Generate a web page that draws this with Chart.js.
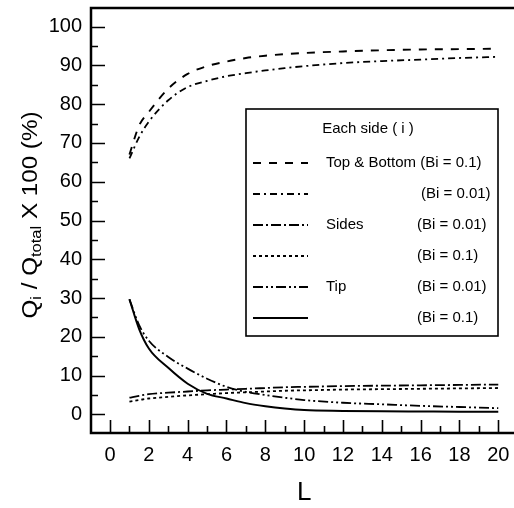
<!DOCTYPE html>
<html>
<head>
<meta charset="utf-8">
<script src="https://cdn.jsdelivr.net/npm/chart.js@4.4.1/dist/chart.umd.min.js"></script>
<style>
html,body{margin:0;padding:0;background:#fff;}
#wrap{width:514px;height:508px;position:relative;}
</style>
</head>
<body>
<div id="wrap"><canvas id="c" width="514" height="508"></canvas></div>
<script>
// ---- data ----
const L = [1, 1.5, 2, 3, 4, 5, 6, 7, 8, 9, 10, 12, 14, 16, 18, 20];
const topBottomBi01  = [67, 74.5, 78, 84, 87.8, 89.8, 91, 91.9, 92.5, 92.9, 93.2, 93.6, 93.9, 94.1, 94.2, 94.3];
const topBottomBi001 = [66, 71.5, 75.5, 81, 84.4, 86, 87.2, 88, 88.7, 89.3, 89.8, 90.6, 91.1, 91.5, 91.9, 92.2];
const sidesBi001     = [4.3, 4.8, 5.2, 5.6, 5.9, 6.2, 6.4, 6.6, 6.8, 7.0, 7.1, 7.3, 7.4, 7.5, 7.6, 7.7];
const sidesBi01      = [3.3, 3.7, 4.1, 4.5, 4.9, 5.2, 5.5, 5.7, 5.9, 6.1, 6.2, 6.4, 6.5, 6.6, 6.7, 6.8];
const tipBi001       = [29.7, 23, 19, 14.8, 11.8, 9.2, 7.1, 5.8, 5.0, 4.3, 3.7, 3.0, 2.6, 2.2, 1.9, 1.6];
const tipBi01        = [29.7, 22, 17, 12, 7.9, 5.3, 4.1, 2.9, 2.1, 1.5, 1.1, 0.9, 0.8, 0.75, 0.7, 0.7];

const xTickLabels = [0, 2, 4, 6, 8, 10, 12, 14, 16, 18, 20];
const xMinorTicks = [1, 3, 5, 7, 9, 11, 13, 15, 17, 19];
const yTickLabels = [0, 10, 20, 30, 40, 50, 60, 70, 80, 90, 100];
const yMinorTicks = [5, 15, 25, 35, 45, 55, 65, 75, 85, 95];

const legendTitle = 'Each side ( i )';
const legendGroup = ['Top & Bottom', '', 'Sides', '', 'Tip', ''];
const legendBi    = ['(Bi = 0.1)', '(Bi = 0.01)', '(Bi = 0.01)', '(Bi = 0.1)', '(Bi = 0.01)', '(Bi = 0.1)'];

const FONT = '"Liberation Sans", Arial, sans-serif';

function pts(vals){ return L.map((x,i)=>({x:x, y:vals[i]})); }

const seriesList = [topBottomBi01, topBottomBi001, sidesBi001, sidesBi01, tipBi001, tipBi01];
const dashes = [[8,8],[7,4,2,4],[10,3,2,3],[3,3],[10,3,2,3,2,3],[]];
const widths = [1.9,1.8,1.8,1.8,1.8,2.0];

const datasets = seriesList.map((s,i)=>({
  label: (legendGroup[i] + ' ' + legendBi[i]).trim(),
  data: pts(s),
  borderColor: '#000',
  backgroundColor: '#000',
  borderWidth: widths[i],
  borderDash: dashes[i],
  pointRadius: 0,
  fill: false,
  cubicInterpolationMode: 'monotone'
}));

const framePlugin = {
  id: 'frame',
  afterDraw(chart){
    const ctx = chart.ctx, a = chart.chartArea;
    const xs = chart.scales.x, ys = chart.scales.y;
    ctx.save();
    ctx.strokeStyle = '#000';
    ctx.setLineDash([]);
    // axis lines
    ctx.lineWidth = 2.5;
    ctx.beginPath();
    ctx.moveTo(a.right, a.top); ctx.lineTo(a.left, a.top);
    ctx.lineTo(a.left, a.bottom); ctx.lineTo(a.right, a.bottom);
    ctx.stroke();
    // ticks
    ctx.lineWidth = 1.6;
    ctx.beginPath();
    yTickLabels.forEach(v=>{ const p = Math.round(ys.getPixelForValue(v))+0.5; ctx.moveTo(a.left, p); ctx.lineTo(a.left+14, p); });
    yMinorTicks.forEach(v=>{ const p = Math.round(ys.getPixelForValue(v))+0.5; ctx.moveTo(a.left, p); ctx.lineTo(a.left+7, p); });
    xTickLabels.forEach(v=>{ const p = Math.round(xs.getPixelForValue(v))+0.5; ctx.moveTo(p, a.bottom); ctx.lineTo(p, a.bottom-13); });
    xMinorTicks.forEach(v=>{ const p = Math.round(xs.getPixelForValue(v))+0.5; ctx.moveTo(p, a.bottom); ctx.lineTo(p, a.bottom-7); });
    ctx.stroke();

    // x title
    ctx.fillStyle = '#000';
    ctx.font = '26px ' + FONT;
    ctx.textAlign = 'center';
    ctx.textBaseline = 'middle';
    const xc = (xs.getPixelForValue(xTickLabels[0]) + xs.getPixelForValue(xTickLabels[xTickLabels.length-1]))/2;
    ctx.fillText('L', xc, 493);

    // y title with subscripts
    const parts = [
      {t:'Q', s:22, d:0}, {t:'i', s:15, d:4}, {t:' / Q', s:22, d:0},
      {t:'total', s:15, d:4}, {t:' X 100 (%)', s:22, d:0}
    ];
    let total = 0;
    parts.forEach(p=>{ ctx.font = p.s+'px '+FONT; p.w = ctx.measureText(p.t).width; total += p.w; });
    ctx.translate(37, 215);
    ctx.rotate(-Math.PI/2);
    ctx.scale(1.1, 1);
    ctx.textAlign = 'left';
    ctx.textBaseline = 'alphabetic';
    let cx = -total/2;
    parts.forEach(p=>{ ctx.font = p.s+'px '+FONT; ctx.fillText(p.t, cx, p.d); cx += p.w; });
    ctx.restore();

    // legend
    ctx.save();
    const bx = 246, by = 109, bw = 252, bh = 227;
    ctx.fillStyle = '#fff';
    ctx.fillRect(bx, by, bw, bh);
    ctx.strokeStyle = '#000';
    ctx.lineWidth = 1.6;
    ctx.strokeRect(bx, by, bw, bh);
    ctx.fillStyle = '#000';
    ctx.font = '15px ' + FONT;
    ctx.textBaseline = 'middle';
    ctx.textAlign = 'center';
    ctx.fillText(legendTitle, 368, 129);
    chart.data.datasets.forEach((ds,i)=>{
      const yy = 163 + i*31;
      ctx.strokeStyle = '#000';
      ctx.lineWidth = ds.borderWidth;
      ctx.setLineDash(ds.borderDash);
      ctx.beginPath(); ctx.moveTo(253, yy); ctx.lineTo(308, yy); ctx.stroke();
      ctx.setLineDash([]);
      ctx.textAlign = 'left';
      ctx.font = '15px ' + FONT;
      if (legendGroup[i]) ctx.fillText(legendGroup[i], 326, yy);
      let bxpos = 417;
      if (i === 0) bxpos = 326 + ctx.measureText(legendGroup[0] + ' ').width;
      else if (i === 1) bxpos = 421;
      ctx.fillText(legendBi[i], bxpos, yy);
    });
    ctx.restore();
  }
};

new Chart(document.getElementById('c'), {
  type: 'line',
  data: { datasets },
  options: {
    responsive: false,
    animation: false,
    devicePixelRatio: 1,
    layout: { padding: { top: 8, right: 0, left: 0, bottom: 0 } },
    plugins: { legend: { display: false }, tooltip: { enabled: false } },
    scales: {
      x: {
        type: 'linear', min: -0.98, max: 20.81,
        grid: { display: false, drawTicks: false },
        border: { display: false },
        afterBuildTicks: s => { s.ticks = xTickLabels.map(v=>({value:v})); },
        afterFit: s => { s.height = 75; s.paddingLeft = 0; s.paddingRight = 0; },
        ticks: { color: '#000', font: { size: 20, family: FONT }, padding: 10, maxRotation: 0, autoSkip: false }
      },
      y: {
        type: 'linear', min: -4.8, max: 104.8,
        grid: { display: false, drawTicks: false },
        border: { display: false },
        afterBuildTicks: s => { s.ticks = yTickLabels.map(v=>({value:v})); },
        afterFit: s => { s.width = 91; s.paddingTop = 0; s.paddingBottom = 0; },
        ticks: { color: '#000', font: { size: 20, family: FONT }, padding: 9, autoSkip: false }
      }
    }
  },
  plugins: [framePlugin]
});
</script>
</body>
</html>
